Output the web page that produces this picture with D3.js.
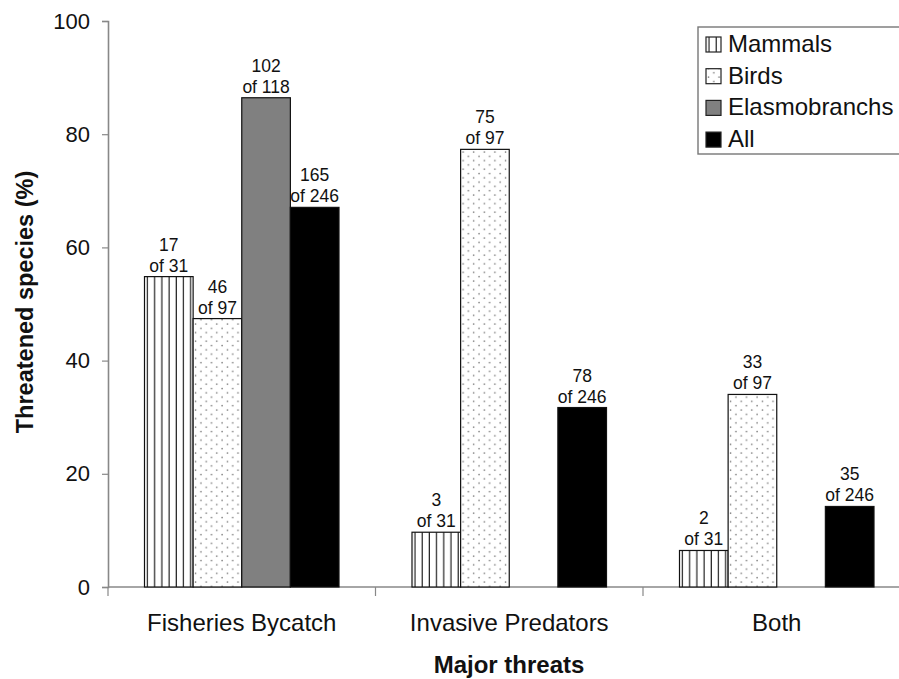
<!DOCTYPE html>
<html>
<head>
<meta charset="utf-8">
<script src="https://cdn.jsdelivr.net/npm/d3@7"></script>
<style>
body { margin: 0; background: #fff; }
svg text { font-family: "Liberation Sans", Arial, sans-serif; fill: #111; }
</style>
</head>
<body>
<div id="chart-area"></div>
<script>
// data
var threats = ["Fisheries Bycatch", "Invasive Predators", "Both"];
var groups = ["Mammals", "Birds", "Elasmobranchs", "All"];
var threatened = [[17, 46, 102, 165], [3, 75, null, 78], [2, 33, null, 35]];
var totals = [[31, 97, 118, 246], [31, 97, null, 246], [31, 97, null, 246]];
var yTicks = [0, 20, 40, 60, 80, 100];

var margin = { left: 108, top: 21 };
var band = 267.5;

var svg = d3.select("#chart-area").append("svg")
    .attr("width", 899)
    .attr("height", 679);

// patterns
var defs = svg.append("defs");
var stripes = defs.append("pattern")
    .attr("id", "stripes")
    .attr("patternUnits", "userSpaceOnUse")
    .attr("width", 7.2).attr("height", 10);
stripes.append("rect").attr("width", 7.2).attr("height", 10).attr("fill", "#fff");
stripes.append("line")
    .attr("x1", 3).attr("x2", 3).attr("y1", 0).attr("y2", 10)
    .attr("stroke", "#222").attr("stroke-width", 1.2);

var dots = defs.append("pattern")
    .attr("id", "dots")
    .attr("patternUnits", "userSpaceOnUse")
    .attr("width", 10.6).attr("height", 8.6);
dots.append("rect").attr("width", 10.6).attr("height", 8.6).attr("fill", "#fff");
dots.append("circle").attr("cx", 2.5).attr("cy", 2).attr("r", 0.8).attr("fill", "#777");
dots.append("circle").attr("cx", 7.8).attr("cy", 6.3).attr("r", 0.8).attr("fill", "#777");

var fills = { Mammals: "url(#stripes)", Birds: "url(#dots)", Elasmobranchs: "#808080", All: "#000" };

var g = svg.append("g")
    .attr("transform", "translate(" + margin.left + "," + margin.top + ")");

// Scales
var x0 = d3.scaleBand().domain(threats).range([0, band * 3]);
var x1 = d3.scaleBand().domain(groups).range([36.5, band - 36.5]);
var y = d3.scaleLinear().domain([0, 100]).range([566, 0]);

// Y axis
var yAxis = g.append("g")
    .call(d3.axisLeft(y).tickValues(yTicks).tickSize(6).tickPadding(12));
yAxis.select(".domain").attr("stroke", "#888").attr("stroke-width", 1.6);
yAxis.selectAll(".tick line").attr("stroke", "#888").attr("stroke-width", 1.2);
yAxis.selectAll(".tick text").attr("font-size", "22px").attr("fill", "#111")
    .attr("font-family", "Liberation Sans, Arial, sans-serif");

// X axis line + separators
g.append("line")
    .attr("x1", 0).attr("x2", band * 3).attr("y1", y(0)).attr("y2", y(0))
    .attr("stroke", "#888").attr("stroke-width", 1.6);
g.selectAll(".sep").data([0, 1, 2, 3]).enter().append("line")
    .attr("class", "sep")
    .attr("x1", function(d) { return d * band; })
    .attr("x2", function(d) { return d * band; })
    .attr("y1", y(0)).attr("y2", y(0) + 9)
    .attr("stroke", "#888").attr("stroke-width", 1.2);

// category labels
g.selectAll(".cat").data(threats).enter().append("text")
    .attr("class", "cat")
    .attr("x", function(d) { return x0(d) + x0.bandwidth() / 2; })
    .attr("y", y(0) + 44)
    .attr("text-anchor", "middle")
    .attr("font-size", "24px")
    .text(function(d) { return d; });

// bars
var rows = [];
threats.forEach(function(t, i) {
    groups.forEach(function(s, j) {
        if (threatened[i][j] != null) {
            rows.push({ threat: t, group: s, n: threatened[i][j], of: totals[i][j],
                        pct: 100 * threatened[i][j] / totals[i][j] });
        }
    });
});

var bar = g.selectAll(".bar").data(rows).enter().append("g")
    .attr("class", "bar")
    .attr("transform", function(d) { return "translate(" + (x0(d.threat) + x1(d.group)) + ",0)"; });

bar.append("rect")
    .attr("y", function(d) { return y(d.pct); })
    .attr("width", x1.bandwidth())
    .attr("height", function(d) { return y(0) - y(d.pct); })
    .attr("fill", function(d) { return fills[d.group]; })
    .attr("stroke", "#111")
    .attr("stroke-width", 1.2);

bar.append("text")
    .attr("x", x1.bandwidth() / 2)
    .attr("y", function(d) { return y(d.pct) - 26; })
    .attr("text-anchor", "middle")
    .attr("font-size", "17.5px")
    .text(function(d) { return d.n; });
bar.append("text")
    .attr("x", x1.bandwidth() / 2)
    .attr("y", function(d) { return y(d.pct) - 5; })
    .attr("text-anchor", "middle")
    .attr("font-size", "17.5px")
    .text(function(d) { return "of " + d.of; });

// axis titles
svg.append("text")
    .attr("transform", "translate(33,302) rotate(-90)")
    .attr("text-anchor", "middle")
    .attr("font-size", "23.5px")
    .attr("font-weight", "bold")
    .text("Threatened species (%)");

svg.append("text")
    .attr("x", 509)
    .attr("y", 673)
    .attr("text-anchor", "middle")
    .attr("font-size", "24px")
    .attr("font-weight", "bold")
    .text("Major threats");

// Legend
var legend = svg.append("g").attr("transform", "translate(698,27)");
legend.append("rect")
    .attr("width", 205).attr("height", 127)
    .attr("fill", "#fff").attr("stroke", "#777").attr("stroke-width", 1.4);

groups.forEach(function(s, i) {
    var row = legend.append("g").attr("transform", "translate(8," + (i * 31.7 + 25) + ")");
    row.append("rect")
        .attr("y", -15)
        .attr("width", 15).attr("height", 15)
        .attr("fill", fills[s]).attr("stroke", "#222").attr("stroke-width", 1.2);
    row.append("text")
        .attr("x", 22).attr("y", 0)
        .attr("font-size", "24px")
        .text(s);
});
</script>
</body>
</html>
